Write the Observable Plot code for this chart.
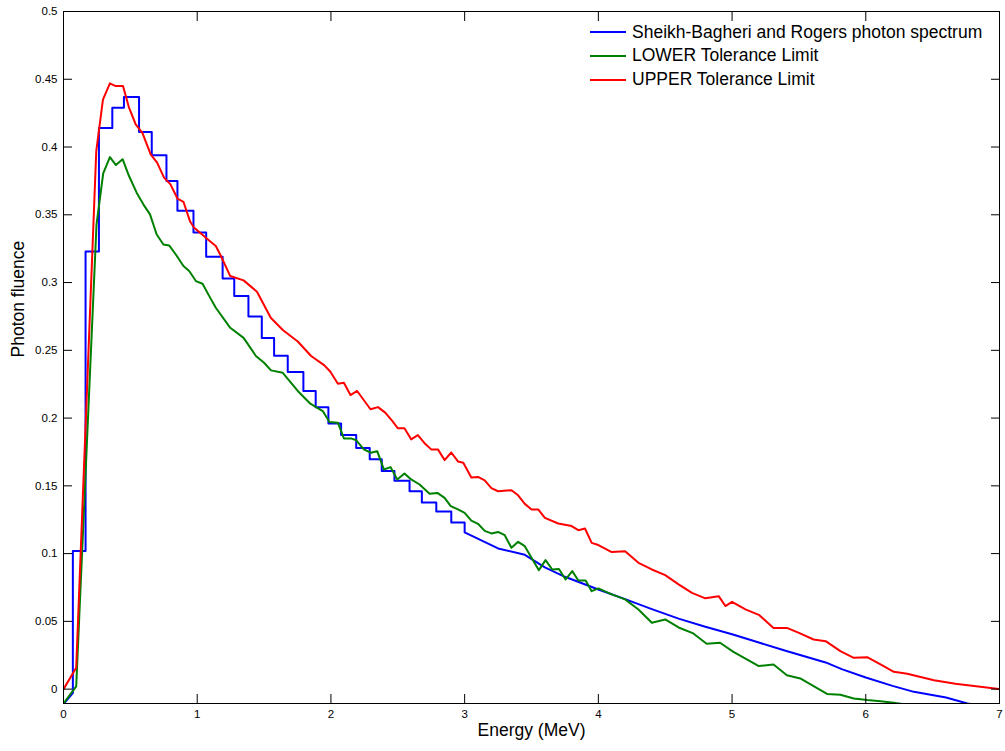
<!DOCTYPE html>
<html><head><meta charset="utf-8">
<script src="https://cdn.jsdelivr.net/npm/d3@7"></script>
<script src="https://cdn.jsdelivr.net/npm/@observablehq/plot@0.6"></script>
<style>
body{margin:0;background:#fff;}
#wrap{position:relative;width:1005px;height:751px;font-family:"Liberation Sans",Arial,sans-serif;}
#wrap svg{display:block;}
#legend{position:absolute;left:590px;top:20.5px;font-size:17.5px;line-height:23.7px;color:#000;}
.item{display:flex;align-items:center;white-space:nowrap;}
.swatch{width:36px;height:0;border-top:2px solid;margin-right:6px;}
</style></head><body><div id="wrap"><div id="legend"></div></div>
<script>
// ---- data ----
const seriesNames = ["Sheikh-Bagheri and Rogers photon spectrum", "LOWER Tolerance Limit", "UPPER Tolerance Limit"];
const seriesColors = ["#0000ff", "#008000", "#ff0000"];

// Sheikh-Bagheri spectrum: start, stepped bins, smooth tail
const blueHeadE = [0, 0.07];
const blueHeadF = [-0.011, -0.003];
const blueStepE = [0.07, 0.165, 0.265, 0.365, 0.452, 0.565, 0.66, 0.77, 0.852, 0.972, 1.067, 1.19, 1.277, 1.383, 1.483, 1.575, 1.677, 1.794, 1.886, 1.981, 2.076, 2.189, 2.29, 2.38, 2.475, 2.588, 2.68, 2.788, 2.90, 3.0];
const blueStepF = [0.102, 0.323, 0.414, 0.429, 0.437, 0.411, 0.394, 0.375, 0.353, 0.337, 0.319, 0.303, 0.290, 0.275, 0.259, 0.246, 0.234, 0.220, 0.208, 0.196, 0.1875, 0.178, 0.1697, 0.161, 0.1537, 0.146, 0.1378, 0.131, 0.123, 0.1156];
const blueTailE = [3.25, 3.45, 3.6, 3.75, 4.0, 4.2, 4.4, 4.6, 4.8, 5.0, 5.2, 5.4, 5.7, 5.82, 6.0, 6.2, 6.36, 6.6, 6.76, 7.0];
const blueTailF = [0.1038, 0.0991, 0.0898, 0.0829, 0.0735, 0.0664, 0.059, 0.052, 0.046, 0.0405, 0.0344, 0.0283, 0.0197, 0.0148, 0.0086, 0.0024, -0.002, -0.0062, -0.0106, -0.014];

const lowerE = [0, 0.095, 0.247, 0.297, 0.347, 0.392, 0.442, 0.49, 0.547, 0.597, 0.647, 0.697, 0.747, 0.79, 0.84, 0.897, 0.94, 0.99, 1.04, 1.09, 1.139, 1.247, 1.347, 1.439, 1.50, 1.552, 1.64, 1.752, 1.846, 1.939, 1.989, 2.052, 2.097, 2.15, 2.19, 2.246, 2.30, 2.346, 2.396, 2.446, 2.496, 2.55, 2.60, 2.663, 2.738, 2.796, 2.85, 2.896, 2.95, 3.0, 3.05, 3.10, 3.15, 3.20, 3.25, 3.30, 3.35, 3.40, 3.45, 3.50, 3.555, 3.605, 3.655, 3.705, 3.755, 3.805, 3.85, 3.905, 3.95, 4.0, 4.1, 4.2, 4.3, 4.4, 4.5, 4.6, 4.71, 4.81, 4.91, 5.01, 5.11, 5.20, 5.31, 5.41, 5.51, 5.61, 5.71, 5.81, 5.91, 6.01, 6.11, 6.21, 6.31, 7.0];
const lowerF = [-0.0106, 0.002, 0.343, 0.3806, 0.3926, 0.3867, 0.391, 0.3786, 0.3663, 0.3577, 0.3503, 0.3355, 0.3281, 0.3274, 0.3207, 0.3122, 0.3085, 0.3011, 0.2991, 0.29, 0.2814, 0.2666, 0.2592, 0.2458, 0.2408, 0.2352, 0.2334, 0.22, 0.2106, 0.2052, 0.1971, 0.1966, 0.185, 0.185, 0.1836, 0.1769, 0.1744, 0.1756, 0.1621, 0.1638, 0.1547, 0.1591, 0.1547, 0.151, 0.1441, 0.1448, 0.1411, 0.135, 0.1326, 0.13, 0.1244, 0.122, 0.1168, 0.1149, 0.116, 0.1136, 0.1043, 0.1087, 0.1055, 0.0969, 0.0878, 0.0952, 0.0883, 0.0887, 0.0809, 0.0871, 0.0802, 0.0802, 0.0723, 0.0743, 0.0699, 0.0662, 0.0588, 0.049, 0.0514, 0.0455, 0.0411, 0.0335, 0.0342, 0.0275, 0.0219, 0.017, 0.0182, 0.0103, 0.0079, 0.0022, -0.0035, -0.0042, -0.0069, -0.0081, -0.0089, -0.0101, -0.0115, -0.02];

const upperE = [0, 0.095, 0.245, 0.295, 0.347, 0.39, 0.445, 0.49, 0.54, 0.59, 0.652, 0.70, 0.752, 0.80, 0.852, 0.897, 0.947, 0.977, 1.027, 1.064, 1.139, 1.177, 1.247, 1.347, 1.447, 1.55, 1.64, 1.752, 1.852, 1.951, 1.996, 2.052, 2.097, 2.146, 2.196, 2.296, 2.352, 2.406, 2.46, 2.50, 2.55, 2.60, 2.65, 2.70, 2.75, 2.80, 2.85, 2.90, 2.95, 2.99, 3.05, 3.10, 3.15, 3.20, 3.25, 3.35, 3.40, 3.45, 3.50, 3.55, 3.60, 3.70, 3.80, 3.85, 3.90, 3.95, 4.0, 4.1, 4.2, 4.3, 4.4, 4.5, 4.6, 4.7, 4.8, 4.9, 4.95, 5.0, 5.1, 5.2, 5.31, 5.41, 5.5, 5.61, 5.7, 5.81, 5.91, 6.01, 6.11, 6.21, 6.31, 6.41, 6.51, 6.67, 7.0];
const upperF = [0.0, 0.0157, 0.397, 0.435, 0.447, 0.445, 0.445, 0.429, 0.4167, 0.4105, 0.3946, 0.3885, 0.3774, 0.3724, 0.362, 0.3596, 0.345, 0.3404, 0.3363, 0.3331, 0.327, 0.3196, 0.3048, 0.3016, 0.2932, 0.274, 0.265, 0.2565, 0.2458, 0.2389, 0.2342, 0.2253, 0.226, 0.217, 0.22, 0.2065, 0.2081, 0.204, 0.1978, 0.1925, 0.1925, 0.1843, 0.1874, 0.1815, 0.1769, 0.1769, 0.169, 0.1746, 0.168, 0.167, 0.1562, 0.1566, 0.1541, 0.1483, 0.146, 0.1468, 0.143, 0.1367, 0.1326, 0.1326, 0.1264, 0.1222, 0.1203, 0.1173, 0.1185, 0.1079, 0.1063, 0.1011, 0.1018, 0.0932, 0.0883, 0.0841, 0.0773, 0.071, 0.067, 0.0686, 0.0613, 0.0644, 0.0588, 0.0548, 0.0452, 0.0452, 0.0415, 0.0366, 0.0354, 0.028, 0.0231, 0.0236, 0.0182, 0.0128, 0.0113, 0.0089, 0.0066, 0.0039, 0.0];

const xTicks = [0, 1, 2, 3, 4, 5, 6, 7];
const yTicks = [0, 0.05, 0.1, 0.15, 0.2, 0.25, 0.3, 0.35, 0.4, 0.45, 0.5];
const xLabel = "Energy (MeV)";
const yLabel = "Photon fluence";

// ---- build tables ----
const blue = [];
blueHeadE.forEach((e, i) => blue.push({E: e, F: blueHeadF[i]}));
let prev = blueHeadF[blueHeadF.length - 1];
blueStepE.forEach((e, i) => { blue.push({E: e, F: prev}); blue.push({E: e, F: blueStepF[i]}); prev = blueStepF[i]; });
blueTailE.forEach((e, i) => blue.push({E: e, F: blueTailF[i]}));
const lower = lowerE.map((e, i) => ({E: e, F: lowerF[i]}));
const upper = upperE.map((e, i) => ({E: e, F: upperF[i]}));
const tables = [blue, lower, upper];

const fmt = d => String(+d.toFixed(2));
const none = () => "";
const font = "Liberation Sans, Arial, sans-serif";
const T = 9; // inward tick length

const chart = Plot.plot({
  width: 1005, height: 751,
  marginLeft: 63, marginRight: 6, marginTop: 11, marginBottom: 48,
  style: {fontFamily: font, background: "#fff", color: "#000"},
  x: {domain: [0, 7]},
  y: {domain: [-0.0106, 0.5]},
  marks: [
    ...tables.map((t, i) => Plot.line(t, {x: "E", y: "F", stroke: seriesColors[i], strokeWidth: 2, clip: true})),
    Plot.frame({stroke: "#000", strokeWidth: 1}),
    Plot.axisX({ticks: xTicks, tickSize: T, dy: -T, tickFormat: none, label: null, stroke: "#000"}),
    Plot.axisX({anchor: "top", ticks: xTicks, tickSize: T, dy: T, tickFormat: none, label: null, stroke: "#000"}),
    Plot.axisY({ticks: yTicks, tickSize: T, dx: T, tickFormat: none, label: null, stroke: "#000"}),
    Plot.axisY({anchor: "right", ticks: yTicks, tickSize: T, dx: -T, tickFormat: none, label: null, stroke: "#000"}),
    Plot.axisX({ticks: xTicks, tickSize: 0, tickPadding: 6, tickFormat: fmt, fontSize: 11.5, label: null}),
    Plot.axisY({ticks: yTicks, tickSize: 0, tickPadding: 6, tickFormat: fmt, fontSize: 11.5, label: null}),
    Plot.text([xLabel], {frameAnchor: "bottom", dy: 32, fontSize: 17.5, fill: "#000"}),
    Plot.text([yLabel], {frameAnchor: "left", dx: -45, rotate: -90, fontSize: 17.5, fill: "#000"})
  ]
});
document.getElementById("wrap").prepend(chart);

const legend = document.getElementById("legend");
seriesNames.forEach((n, i) => {
  const row = document.createElement("div");
  row.className = "item";
  const sw = document.createElement("div");
  sw.className = "swatch";
  sw.style.borderTopColor = seriesColors[i];
  const tx = document.createElement("span");
  tx.textContent = n;
  row.append(sw, tx);
  legend.append(row);
});
</script></body></html>
